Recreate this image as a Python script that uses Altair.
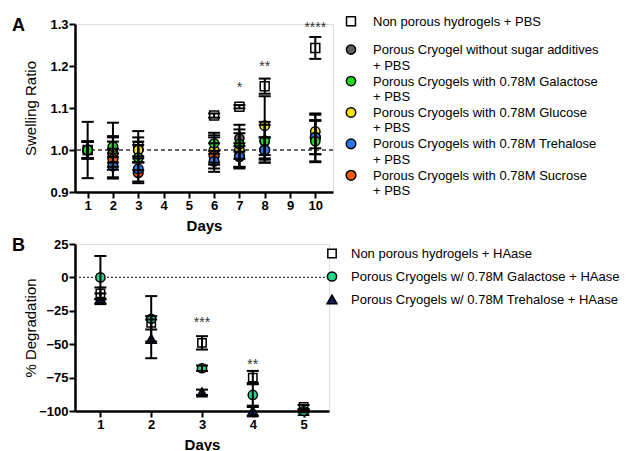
import altair as alt
import pandas as pd

FONT = "Liberation Sans"

# ---------------- Panel A : swelling ratio ----------------
days_a = [1, 2, 3, 6, 7, 8, 10]
series_a = ["NP", "Plain", "Gal", "Glu", "Tre", "Suc"]
labels_a = [
    "Non porous hydrogels + PBS",
    "Porous Cryogel without sugar additives\n + PBS",
    "Porous Cryogels with 0.78M Galactose\n + PBS",
    "Porous Cryogels with 0.78M Glucose\n + PBS",
    "Porous Cryogels with 0.78M Trehalose\n + PBS",
    "Porous Cryogels with 0.78M Sucrose\n + PBS",
]
shapes_a = ["square", "circle", "circle", "circle", "circle", "circle"]
colors_a = ["#ffffff", "#5f5f5f", "#1fdc1f", "#f2e30f", "#2f74e8", "#f25a12"]
sizes_a = [80, 95, 95, 95, 95, 95]
draw_order_a = ["NP", "Plain", "Glu", "Suc", "Tre", "Gal"]

mean_a = {
    "NP":    [1.000, 1.000, 1.008, 1.082, 1.103, 1.152, 1.243],
    "Plain": [1.000, 1.000, 1.000, 1.000, 1.028, 1.020, 1.030],
    "Gal":   [1.000, 1.008, 0.982, 1.016, 1.014, 1.022, 1.021],
    "Glu":   [1.000, 0.990, 1.000, 1.000, 1.000, 1.058, 1.044],
    "Tre":   [1.000, 0.962, 0.955, 0.973, 0.984, 1.000, 1.030],
    "Suc":   [1.000, 0.978, 0.946, 0.986, 0.986, 1.000, 1.030],
}
sd_a = {
    "NP":    [0.067, 0.065, 0.037, 0.005, 0.004, 0.018, 0.026],
    "Plain": [0.020, 0.030, 0.020, 0.035, 0.032, 0.040, 0.040],
    "Gal":   [0.020, 0.025, 0.030, 0.025, 0.035, 0.045, 0.050],
    "Glu":   [0.020, 0.030, 0.030, 0.030, 0.040, 0.070, 0.040],
    "Tre":   [0.020, 0.030, 0.030, 0.025, 0.025, 0.030, 0.040],
    "Suc":   [0.020, 0.025, 0.025, 0.030, 0.030, 0.030, 0.057],
}
stars_a_day = [7, 8, 10]
stars_a_text = ["*", "**", "****"]
stars_a_y = [1.155, 1.205, 1.297]

# ---------------- Panel B : degradation ----------------
days_b = [1, 2, 3, 4, 5]
series_b = ["NP", "Gal", "Tre"]
labels_b = [
    "Non porous hydrogels + HAase",
    "Porous Cryogels w/ 0.78M Galactose + HAase",
    "Porous Cryogels w/ 0.78M Trehalose + HAase",
]
shapes_b = ["square", "circle", "triangle-up"]
colors_b = ["#ffffff", "#24d68c", "#111a5e"]
sizes_b = [70, 100, 110]
draw_order_b = ["Tre", "NP", "Gal"]

mean_b = {
    "NP":  [-12, -34, -49, -75, -97],
    "Gal": [0, -31, -68, -88, -100],
    "Tre": [-16, -46, -86, -100, -100],
}
sd_b = {
    "NP":  [4.5, 5, 5, 5, 1.5],
    "Gal": [16, 17, 2, 9, 1],
    "Tre": [4, 14.5, 2, 4, 0],
}
stars_b_day = [3, 4]
stars_b_text = ["***", "**"]
stars_b_y = [-32, -63.5]


def table(days, order, mean, sd):
    rows = []
    for s in order:
        for d, m, e in zip(days, mean[s], sd[s]):
            rows.append({"day": d, "series": s, "mean": m, "lo": m - e, "hi": m + e})
    return pd.DataFrame(rows)


df_a = table(days_a, draw_order_a, mean_a, sd_a)
df_b = table(days_b, draw_order_b, mean_b, sd_b)


def axis(values, fmt, title_x=None, title_y=None):
    kw = dict(
        values=values, format=fmt, grid=False,
        domainColor="black", domainWidth=2.5,
        tickColor="black", tickWidth=2, tickSize=6,
        labelFont=FONT, labelFontSize=13, labelFontWeight="bold",
        labelColor="black", labelPadding=1,
        titleFont=FONT, titleColor="black",
    )
    if title_x is not None:
        kw.update(titleX=title_x, titleFontSize=15, titleFontWeight="normal",
                  titleBaseline="middle", titleAngle=270)
    if title_y is not None:
        kw.update(titleY=title_y, titleFontSize=15, titleFontWeight="bold",
                  titleBaseline="middle")
    return alt.Axis(**kw)


def panel(df, series, shapes, colors, sizes, labels, xdom, ydom, width, height,
          xvals, yvals, yfmt, ytitle, ref_y, ref_dash, stars, letter, leg_rows, leg_range,
          leg_sym_x, leg_txt_x):
    xs = alt.Scale(domain=xdom, nice=False, zero=False)
    ys = alt.Scale(domain=ydom, nice=False, zero=False)
    shape = alt.Shape("series:N", scale=alt.Scale(domain=series, range=shapes), legend=None)
    fill = alt.Fill("series:N", scale=alt.Scale(domain=series, range=colors), legend=None)
    size = alt.Size("series:O", scale=alt.Scale(domain=series, range=sizes), legend=None)

    ref = alt.Chart(pd.DataFrame({"r": [ref_y]})).mark_rule(
        color="#333333", strokeWidth=1.3, strokeDash=ref_dash
    ).encode(y=alt.Y("r:Q", scale=ys, axis=None))

    pts = alt.Chart(df).mark_point(filled=True, stroke="black", strokeWidth=1.5, opacity=1).encode(
        x=alt.X("day:Q", scale=xs, title="Days", axis=axis(xvals, "d", title_y=33)),
        y=alt.Y("mean:Q", scale=ys, title=ytitle, axis=axis(yvals, yfmt, title_x=-45)),
        shape=shape, fill=fill, size=size,
    )
    bars = alt.Chart(df).mark_rule(color="black", strokeWidth=2).encode(
        x=alt.X("day:Q", scale=xs, axis=None),
        y=alt.Y("lo:Q", scale=ys, axis=None),
        y2="hi:Q",
    )
    caps = alt.Chart(df).transform_fold(["lo", "hi"], as_=["k", "v"]).mark_tick(
        orient="horizontal", size=12, thickness=2, color="black", opacity=1
    ).encode(
        x=alt.X("day:Q", scale=xs, axis=None),
        y=alt.Y("v:Q", scale=ys, axis=None),
    )
    sdf = pd.DataFrame({"day": stars[0], "t": stars[1], "y": stars[2]})
    star = alt.Chart(sdf).mark_text(font=FONT, fontSize=14, color="#333333", baseline="middle", dy=3).encode(
        x=alt.X("day:Q", scale=xs, axis=None),
        y=alt.Y("y:Q", scale=ys, axis=None),
        text="t:N",
    )
    let = alt.Chart(pd.DataFrame({"t": [letter]})).mark_text(
        font=FONT, fontSize=18, fontWeight="bold", color="black", align="left", baseline="middle"
    ).encode(text="t:N", x=alt.value(-63), y=alt.value(2))

    ldf = pd.DataFrame({"series": series, "label": labels, "row": leg_rows})
    lys = alt.Scale(domain=[leg_rows[0], leg_rows[-1]], range=leg_range, nice=False, zero=False)
    lsym = alt.Chart(ldf).mark_point(filled=True, stroke="black", strokeWidth=1.5, opacity=1).encode(
        x=alt.value(leg_sym_x),
        y=alt.Y("row:Q", scale=lys, axis=None),
        shape=shape, fill=fill, size=size,
    )
    ltxt = alt.Chart(ldf).mark_text(
        font=FONT, fontSize=13, color="black", align="left", baseline="alphabetic",
        dy=4.5, lineBreak="\n", lineHeight=15.5
    ).encode(
        x=alt.value(leg_txt_x),
        y=alt.Y("row:Q", scale=lys, axis=None),
        text="label:N",
    )
    return alt.layer(ref, pts, bars, caps, star, let, lsym, ltxt).resolve_scale(
        x="independent", y="independent"
    ).properties(width=width, height=height)


rows_a = [0] + [i - 0.1 for i in range(1, len(series_a))]
chart_a = panel(df_a, series_a, shapes_a, colors_a, sizes_a, labels_a,
                [0.5, 10.7], [0.9, 1.3], 258, 168,
                list(range(1, 11)), [0.9, 1.0, 1.1, 1.2, 1.3], ".1f", "Swelling Ratio",
                1.0, [4, 3], (stars_a_day, stars_a_text, stars_a_y), "A",
                rows_a, [-2.7, 151.3], 276, 298)

rows_b = list(range(len(series_b)))
chart_b = panel(df_b, series_b, shapes_b, colors_b, sizes_b, labels_b,
                [0.5, 5.5], [-100, 25], 254, 167,
                [1, 2, 3, 4, 5], [25, 0, -25, -50, -75, -100], "d", "% Degradation",
                0, [2, 2], (stars_b_day, stars_b_text, stars_b_y), "B",
                rows_b, [9.5, 55.5], 257, 276)

chart = alt.VConcatChart(vconcat=[chart_a, chart_b], spacing=52, bounds="flush").resolve_scale(
    shape="independent", fill="independent", size="independent"
).properties(
    padding={"left": 3, "top": 5, "right": 0, "bottom": 0}
).configure_view(stroke=None).configure(background="white")

chart.save("out.html", embed_options={"renderer": "svg", "actions": False})
